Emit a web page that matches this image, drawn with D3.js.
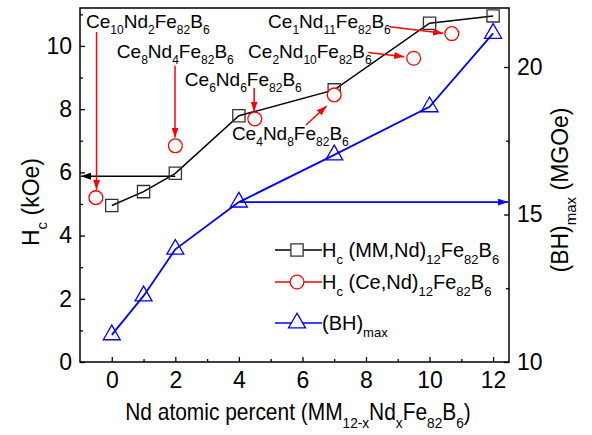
<!DOCTYPE html>
<html>
<head>
<meta charset="utf-8">
<script src="https://cdn.jsdelivr.net/npm/d3@7"></script>
<style>
  body { margin: 0; background: #fff; }
  text { white-space: pre; font-family: "Liberation Sans", Arial, Helvetica, sans-serif; }
</style>
</head>
<body>
<div id="chart"></div>
<script>
// data
const ndX = [0, 1, 2, 4, 7, 10, 12];
const hcMM = [4.95, 5.39, 5.97, 7.79, 8.61, 10.72, 10.95];
const bhMax = [10.92, 12.24, 13.82, 15.42, 17.02, 18.65, 21.14];
const ceX = [-0.5, 2, 4.5, 7, 9.5, 10.7];
const hcCe = [5.20, 6.84, 7.69, 8.45, 9.61, 10.39];

const xMajor = [0, 2, 4, 6, 8, 10, 12];
const xMinor = [1, 3, 5, 7, 9, 11];
const yLMajor = [0, 2, 4, 6, 8, 10];
const yLMinor = [1, 3, 5, 7, 9, 11];
const yRMajor = [10, 15, 20];
const yRMinor = [12.5, 17.5];

// labels for the (Ce,Nd) points: text start, arrow from -> to (data units, left axis)
const annLabels = ["Ce_{10}Nd_{2}Fe_{82}B_{6}", "Ce_{8}Nd_{4}Fe_{82}B_{6}", "Ce_{6}Nd_{6}Fe_{82}B_{6}",
                   "Ce_{4}Nd_{8}Fe_{82}B_{6}", "Ce_{2}Nd_{10}Fe_{82}B_{6}", "Ce_{1}Nd_{11}Fe_{82}B_{6}"];
const annText = [[-0.81, 10.57], [0.16, 9.62], [2.30, 8.73], [3.78, 7.02], [4.29, 9.62], [4.92, 10.57]];
const annFrom = [[-0.48, 10.44], [1.99, 9.37], [4.48, 8.67], [6.11, 7.50], [8.07, 9.79], [8.75, 10.61]];
const annTo = [[-0.48, 5.45], [1.99, 7.10], [4.48, 7.92], [6.76, 8.10], [9.20, 9.66], [10.43, 10.40]];

const FONT = "'Liberation Sans', Arial, Helvetica, sans-serif";
const W = 592, H = 435;
const margin = {top: 8, right: 83, bottom: 73, left: 80};
const width = W - margin.left - margin.right;
const height = H - margin.top - margin.bottom;

const svg = d3.select("#chart").append("svg")
    .attr("width", W)
    .attr("height", H)
    .attr("font-family", FONT);

const defs = svg.append("defs");
[["red", "#ff0000"], ["black", "#000"], ["blue", "#0000ff"]].forEach(([id, c]) => {
    defs.append("marker")
        .attr("id", "arr-" + id)
        .attr("markerUnits", "userSpaceOnUse")
        .attr("markerWidth", 10).attr("markerHeight", 7)
        .attr("refX", 10).attr("refY", 3.5)
        .attr("orient", "auto")
        .append("path")
        .attr("d", "M0,0 L10,3.5 L0,7 Z")
        .attr("fill", c);
});

const g = svg.append("g").attr("transform", `translate(${margin.left},${margin.top})`);

const x = d3.scaleLinear().domain([-1, 12.5]).range([0, width]);
const yL = d3.scaleLinear().domain([0, 11.2]).range([height, 0]);
const yR = d3.scaleLinear().domain([10, 22]).range([height, 0]);

function rich(sel, str, size, sub) {
    sel.attr("font-family", FONT);
    const parts = str.split(/(_\{[^}]*\})/).filter(s => s);
    const off = size * 0.33;
    let shifted = false;
    parts.forEach(p => {
        const isSub = p.startsWith("_{");
        const t = sel.append("tspan")
            .text(isSub ? p.slice(2, -1) : p)
            .attr("font-size", isSub ? sub : size);
        if (isSub && !shifted) { t.attr("dy", off); shifted = true; }
        else if (!isSub && shifted) { t.attr("dy", -off); shifted = false; }
    });
    return sel;
}

// axes
function styleAxis(a) {
    a.attr("font-family", FONT);
    a.select(".domain").remove();
    a.selectAll("line").attr("stroke", "#000").attr("stroke-width", 1.3);
    a.selectAll("text").attr("font-size", 23).attr("fill", "#000").attr("font-family", FONT);
}

g.append("g").attr("transform", `translate(0,${height})`)
    .call(d3.axisBottom(x).tickValues(xMajor).tickSize(-5).tickPadding(10))
    .call(styleAxis);
g.append("g").attr("transform", `translate(0,${height})`)
    .call(d3.axisBottom(x).tickValues(xMinor).tickSize(-3).tickFormat(""))
    .call(styleAxis);
g.append("g")
    .call(d3.axisLeft(yL).tickValues(yLMajor).tickSize(-5).tickPadding(8))
    .call(styleAxis);
g.append("g")
    .call(d3.axisLeft(yL).tickValues(yLMinor).tickSize(-3).tickFormat(""))
    .call(styleAxis);
g.append("g").attr("transform", `translate(${width},0)`)
    .call(d3.axisRight(yR).tickValues(yRMajor).tickSize(-5).tickPadding(8))
    .call(styleAxis);
g.append("g").attr("transform", `translate(${width},0)`)
    .call(d3.axisRight(yR).tickValues(yRMinor).tickSize(-3).tickFormat(""))
    .call(styleAxis);

g.append("rect")
    .attr("width", width).attr("height", height)
    .attr("fill", "none").attr("stroke", "#000").attr("stroke-width", 1.5);

// axis titles
rich(svg.append("text")
    .attr("transform", "translate(39,202) rotate(-90)")
    .attr("text-anchor", "middle"), "H_{c} (kOe)", 23, 15);
rich(svg.append("text")
    .attr("transform", "translate(568,190) rotate(-90)")
    .attr("text-anchor", "middle"), "(BH)_{max} (MGOe)", 23, 15);
rich(svg.append("text")
    .attr("transform", "translate(298,420) scale(0.91,1)")
    .attr("text-anchor", "middle"), "Nd atomic percent (MM_{12-x}Nd_{x}Fe_{82}B_{6})", 23, 15);

// horizontal arrows pointing to the axes
g.append("line")
    .attr("x1", x(ndX[2])).attr("x2", x(-1) + 1)
    .attr("y1", yL(5.88)).attr("y2", yL(5.88))
    .attr("stroke", "#000").attr("stroke-width", 1.5)
    .attr("marker-end", "url(#arr-black)");
g.append("line")
    .attr("x1", x(ndX[3])).attr("x2", x(12.5) - 1)
    .attr("y1", yR(bhMax[3])).attr("y2", yR(bhMax[3]))
    .attr("stroke", "#0000ff").attr("stroke-width", 1.8)
    .attr("marker-end", "url(#arr-blue)");

// series
const mmLine = d3.line().x((d, i) => x(ndX[i])).y(d => yL(d));
g.append("path").datum(hcMM)
    .attr("d", mmLine)
    .attr("fill", "none").attr("stroke", "#000").attr("stroke-width", 1.5);

const bhLine = d3.line().x((d, i) => x(ndX[i])).y(d => yR(d));
g.append("path").datum(bhMax)
    .attr("d", bhLine)
    .attr("fill", "none").attr("stroke", "#0000ff").attr("stroke-width", 1.8);

const sq = d3.symbol().type(d3.symbolSquare).size(150);
const ci = d3.symbol().type(d3.symbolCircle).size(150);
const tri = d3.symbol().type(d3.symbolTriangle).size(125);

g.selectAll(".sq").data(hcMM).join("path")
    .attr("class", "sq")
    .attr("transform", (d, i) => `translate(${x(ndX[i])},${yL(d)})`)
    .attr("d", sq)
    .attr("fill", "none").attr("stroke", "#333").attr("stroke-width", 1.3);

g.selectAll(".tri").data(bhMax).join("path")
    .attr("class", "tri")
    .attr("transform", (d, i) => `translate(${x(ndX[i])},${yR(d)})`)
    .attr("d", tri)
    .attr("fill", "none").attr("stroke", "#0000ff").attr("stroke-width", 1.3);

g.selectAll(".ci").data(hcCe).join("path")
    .attr("class", "ci")
    .attr("transform", (d, i) => `translate(${x(ceX[i])},${yL(d)})`)
    .attr("d", ci)
    .attr("fill", "#fff").attr("stroke", "#ff0000").attr("stroke-width", 1.3);

// annotations
annLabels.forEach((lab, i) => {
    rich(g.append("text")
        .attr("x", x(annText[i][0])).attr("y", yL(annText[i][1])),
        lab, 19, 12);
    g.append("line")
        .attr("x1", x(annFrom[i][0])).attr("y1", yL(annFrom[i][1]))
        .attr("x2", x(annTo[i][0])).attr("y2", yL(annTo[i][1]))
        .attr("stroke", "#ff0000").attr("stroke-width", 1.5)
        .attr("marker-end", "url(#arr-red)");
});

// legend
const legendItems = [
    {label: "H_{c} (MM,Nd)_{12}Fe_{82}B_{6}", color: "#000", sym: sq, mk: "#333"},
    {label: "H_{c} (Ce,Nd)_{12}Fe_{82}B_{6}", color: "#ff0000", sym: ci, mk: "#ff0000"},
    {label: "(BH)_{max}", color: "#0000ff", sym: tri, mk: "#0000ff"}
];
const legendY = [250, 282, 323];
legendItems.forEach((d, i) => {
    const lg = svg.append("g").attr("transform", `translate(275,${legendY[i]})`);
    lg.append("line").attr("x1", 0).attr("x2", 47)
        .attr("stroke", d.color).attr("stroke-width", 1.5);
    lg.append("path").attr("transform", "translate(22,0)")
        .attr("d", d.sym).attr("fill", "#fff")
        .attr("stroke", d.mk).attr("stroke-width", 1.3);
    rich(lg.append("text").attr("x", 47).attr("y", 7), d.label, 20, 13);
});
</script>
</body>
</html>
